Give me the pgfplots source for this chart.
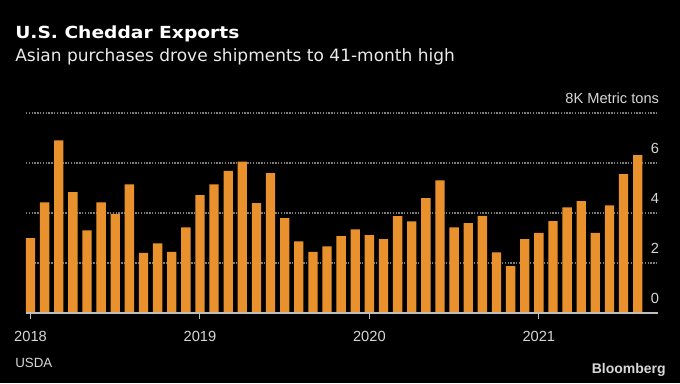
\documentclass[border=0pt]{standalone}
\usepackage{fontspec}
\setmainfont{Liberation Sans}
\newfontfamily\titlefont{DejaVu Sans}[FakeStretch=1.12]
\newfontfamily\subfont{DejaVu Sans}
\usepackage{pgfplots}
\pgfplotsset{compat=1.18}
\definecolor{barorange}{RGB}{232,145,45}
\definecolor{gridgray}{RGB}{125,125,125}
\definecolor{lblgray}{RGB}{215,215,215}
\definecolor{basegray}{RGB}{190,190,190}
\begin{document}
\begin{tikzpicture}[x=1pt,y=1pt]
\useasboundingbox (0,0) rectangle (510,287.25);
\fill[black] (0,0) rectangle (510,287.25);
\node[anchor=base west, inner sep=0pt, text=white] at (11.25,258.4) {\titlefont\bfseries\fontsize{12.5}{14}\selectfont U.S. Cheddar Exports};
\node[anchor=base west, inner sep=0pt, text=white!92!black] at (11.25,241) {\subfont\fontsize{12.75}{14}\selectfont Asian purchases drove shipments to 41-month high};
\node[anchor=base west, inner sep=0pt, text=lblgray] at (11.25,11.8) {\fontsize{10}{11}\selectfont USDA};
\node[anchor=base east, inner sep=0pt, text=lblgray] at (499.5,7.3) {\bfseries\fontsize{10.5}{12}\selectfont Bloomberg};
\begin{axis}[
  at={(19.5pt,52.5pt)}, anchor=south west,
  scale only axis, width=474pt, height=150pt,
  xmin=-0.32, xmax=44.44, ymin=0, ymax=8,
  axis line style={draw=none},
  xtick={0,12,24,36}, xticklabels={2018,2019,2020,2021},
  xtick pos=bottom, xtick align=outside,
  major tick length=4.5pt,
  xtick style={color=basegray, line width=0.8pt},
  ytick={0,2,4,6,8}, yticklabels={0,2,4,6,8K Metric tons},
  ytick style={draw=none},
  yticklabel pos=right,
  ymajorgrids,
  major grid style={color=gridgray, line width=0.8pt, dash pattern=on 1.1pt off 1pt},
  /pgf/number format/assume math mode=true,
  xticklabel style={anchor=base, inner sep=0pt, yshift=-16.5pt, text=lblgray, font=\fontsize{11}{13}\selectfont},
  yticklabel style={anchor=base east, inner sep=0pt, yshift=7.5pt, xshift=1pt, text=lblgray, font=\fontsize{11}{13}\selectfont},
  clip=false,
]
\addplot[ybar, fill=barorange, draw=none, bar width=7pt] coordinates {
(0,3.00) (1,4.43) (2,6.91) (3,4.84) (4,3.31) (5,4.43) (6,3.97) (7,5.15) (8,2.41) (9,2.79) (10,2.45) (11,3.43)
(12,4.72) (13,5.15) (14,5.69) (15,6.06) (16,4.40) (17,5.60) (18,3.80) (19,2.87) (20,2.45) (21,2.67) (22,3.08) (23,3.35)
(24,3.12) (25,2.96) (26,3.88) (27,3.67) (28,4.60) (29,5.31) (30,3.43) (31,3.60) (32,3.89) (33,2.43) (34,1.88) (35,2.96)
(36,3.21) (37,3.68) (38,4.23) (39,4.48) (40,3.21) (41,4.31) (42,5.56) (43,6.32)
};
\draw[basegray, line width=1.1pt] (axis cs:-0.32,0) -- (axis cs:44.44,0);
\end{axis}
\end{tikzpicture}
\end{document}
